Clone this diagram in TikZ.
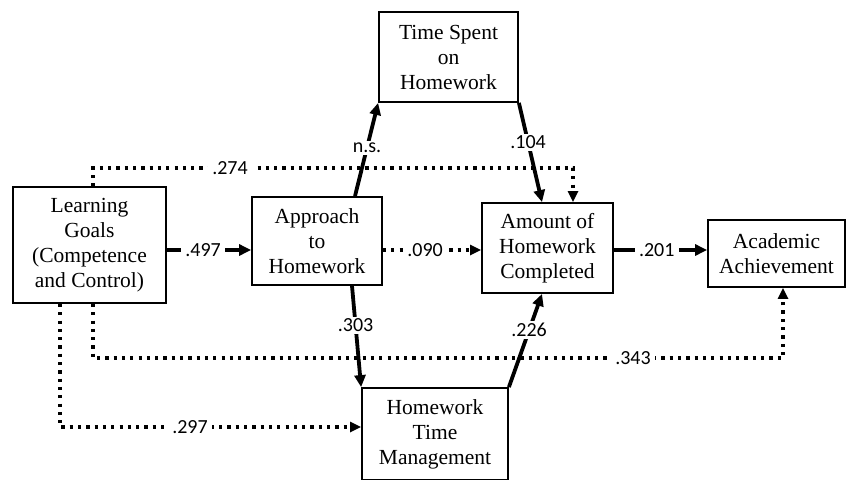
\documentclass[tikz,border=0pt]{standalone}
\usepackage{fontspec}
\setmainfont{Liberation Serif}
\newfontfamily\lblfont{Carlito}
\usetikzlibrary{arrows.meta,calc}
\begin{document}
\begin{tikzpicture}[x=1pt,y=-1pt,
 box/.style={draw, line width=1.8pt, align=center, font=\fontsize{21.5}{25}\selectfont, inner sep=0pt, anchor=center},
 lbl/.style={fill=white, font=\lblfont\fontsize{20}{22}\selectfont, inner xsep=4pt, inner ysep=2pt},
 solidarr/.style={line width=3.8pt, -{Triangle[length=12pt,width=11pt]}},
 dotarr/.style={line width=3.2pt, dash pattern=on 3.2pt off 5.1pt, -{Triangle[length=11pt,width=10pt]}}]
\useasboundingbox (0,0) rectangle (858,479);
\clip (0,0) rectangle (858,479);
% boxes
\node[box, minimum width=153pt, minimum height=116pt] (LG) at (89.5,245) {Learning\\Goals\\(Competence\\and Control)};
\node[box, minimum width=139pt, minimum height=90pt] (TS) at (448.5,57) {Time Spent\\on\\Homework};
\node[box, minimum width=130pt, minimum height=88pt] (AP) at (317,241) {Approach\\to\\Homework};
\node[box, minimum width=131pt, minimum height=90pt] (AM) at (547.5,248) {Amount of\\Homework\\Completed};
\node[box, minimum width=137pt, minimum height=67pt] (AA) at (776.5,253.5) {Academic\\Achievement};
\node[box, minimum width=146pt, minimum height=92pt] (HTM) at (435,434) {Homework\\Time\\Management};
% helper coordinates
\coordinate (r) at (0,250);
\coordinate (c274) at (573,168);
\coordinate (c343) at (783,358);
\coordinate (c297) at (0,427);
% dotted paths
\draw[dotarr] ([xshift=3.5pt]LG.north) |- (c274) -- (AM.north -| c274);
\node[lbl] (l274) at (230,168) {.274};
\draw[dotarr] ([xshift=3.5pt]LG.south) |- (c343) -- (AA.south -| c343);
\node[lbl] (l343) at (633,358) {.343};
\draw[dotarr] ([xshift=-29.5pt]LG.south) |- (HTM.west |- c297);
\node[lbl] (l297) at (190,427) {.297};
\draw[dotarr] (AP.east |- r) -- node[lbl, pos=0.43] {.090} (AM.west |- r);
% solid paths
\draw[solidarr] (LG.east |- r) -- node[lbl, pos=0.43] {.497} (AP.west |- r);
\draw[solidarr] (AM.east |- r) -- node[lbl, pos=0.46] {.201} (AA.west |- r);
\draw[solidarr] ([xshift=38pt]AP.north) -- node[lbl, pos=0.52] {n.s.} (TS.south west);
\draw[solidarr] (TS.south east) -- node[lbl, pos=0.4] {.104} ([xshift=-5.5pt]AM.north);
\draw[solidarr] ([xshift=35pt]AP.south) -- node[lbl, pos=0.39] {.303} (HTM.north west);
\draw[solidarr] (HTM.north east) -- node[lbl, pos=0.61] {.226} ([xshift=-5.5pt]AM.south);
\end{tikzpicture}
\end{document}
